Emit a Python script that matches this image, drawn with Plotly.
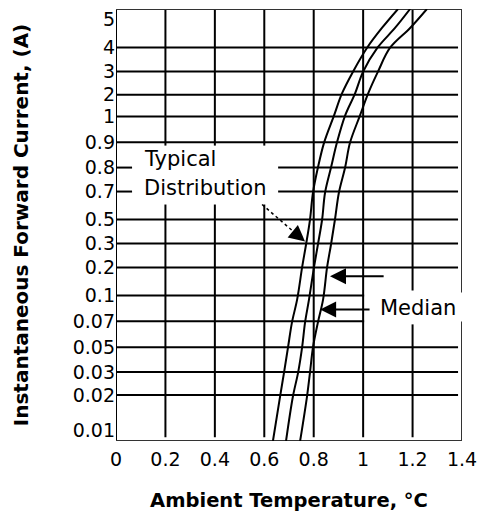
import plotly.graph_objects as go

# ---- data (x: printed temperature scale; y: position on the printed current scale, in grid rows) ----
current_labels = ["5", "4", "3", "2", "1", "0.9", "0.8", "0.7", "0.5", "0.3",
                  "0.2", "0.1", "0.07", "0.05", "0.03", "0.02", "0.01"]
current_rows = [16.9, 15.76, 14.8, 13.87, 13.0, 11.96, 10.95, 9.99, 8.87, 7.91,
                6.95, 5.83, 4.8, 3.75, 2.76, 1.84, 0.43]

temp_ticks = [0, 0.2, 0.4, 0.6, 0.8, 1.0, 1.2, 1.4]
temp_labels = ["0", "0.2", "0.4", "0.6", "0.8", "1", "1.2", "1.4"]

curve_rows = [17.30, 16.54, 15.75, 14.79, 13.91, 13.03, 11.95, 10.95, 9.95,
              8.87, 7.87, 6.95, 5.67, 4.75, 3.75, 2.75, 1.79, 0.0]
temp_low = [1.141, 1.076, 1.016, 0.959, 0.914, 0.882, 0.842, 0.817, 0.797,
            0.785, 0.769, 0.753, 0.733, 0.712, 0.696, 0.680, 0.664, 0.635]
temp_median = [1.190, 1.129, 1.058, 1.000, 0.967, 0.927, 0.894, 0.870, 0.846,
               0.834, 0.817, 0.801, 0.781, 0.765, 0.753, 0.737, 0.716, 0.688]
temp_high = [1.258, 1.190, 1.109, 1.060, 1.020, 0.987, 0.947, 0.927, 0.902,
             0.886, 0.870, 0.854, 0.838, 0.817, 0.797, 0.785, 0.773, 0.745]

X_MAX = 1.4
Y_MAX = 17.3

fig = go.Figure()
for name, xs in [("Low", temp_low), ("Median", temp_median), ("High", temp_high)]:
    fig.add_trace(go.Scatter(x=xs, y=curve_rows, mode="lines", name=name,
                             line=dict(color="black", width=2, shape="spline", smoothing=1.0),
                             showlegend=False, hoverinfo="skip"))

shapes = []
LC = "black"


def hseg(y, x0, x1, w=2, color=LC):
    shapes.append(dict(type="line", xref="x", yref="y", x0=x0, x1=x1, y0=y, y1=y,
                       line=dict(color=color, width=w), layer="below"))


def vseg(x, y0, y1, w=2, color=LC):
    shapes.append(dict(type="line", xref="x", yref="y", x0=x, x1=x, y0=y0, y1=y1,
                       line=dict(color=color, width=w), layer="below"))


H_END = 1.384
V_BOT = 0.15
# horizontal grid lines (skip "5" = top edge and "0.01" label)
for lab, r in zip(current_labels[1:-1], current_rows[1:-1]):
    if lab in ("0.8", "0.7"):
        hseg(r, 0, 0.065)
        hseg(r, 0.656, H_END)
    elif lab in ("0.1", "0.07"):
        hseg(r, 0, 1.004)
    else:
        hseg(r, 0, H_END)

# vertical grid lines
for t in temp_ticks[1:-1]:
    if t in (0.2, 0.4, 0.6):
        vseg(t, V_BOT, 9.47)
        vseg(t, 11.83, Y_MAX)
    elif t == 1.2:
        vseg(t, V_BOT, 4.67)
        vseg(t, 6.03, Y_MAX)
    else:
        vseg(t, V_BOT, Y_MAX)

# frame
vseg(0, 0, Y_MAX, w=2)
hseg(0, 0, X_MAX, w=2, color="#333")
hseg(Y_MAX, 0, X_MAX, w=2, color="#333")
vseg(X_MAX, 0, 4.79, w=2, color="#333")
vseg(X_MAX, 5.95, Y_MAX, w=2, color="#333")

# dotted leader of "Typical Distribution"
shapes.append(dict(type="line", xref="x", yref="y", x0=0.591, y0=9.47, x1=0.72, y1=8.37,
                   line=dict(color="black", width=1.5, dash="dot")))

txt_font = dict(family="DejaVu Sans", size=21, color="black")
annotations = [
    dict(x=0.105, y=11.3, xref="x", yref="y", text="Typical", showarrow=False,
         xanchor="left", yanchor="middle", font=txt_font),
    dict(x=0.105, y=10.15, xref="x", yref="y", text="Distribution", showarrow=False,
         xanchor="left", yanchor="middle", font=txt_font),
    dict(x=1.06, y=5.33, xref="x", yref="y", text="Median", showarrow=False,
         xanchor="left", yanchor="middle", font=txt_font),
    # arrows
    dict(x=0.866, y=6.6, ax=1.089, ay=6.6, xref="x", yref="y", axref="x", ayref="y",
         text="", showarrow=True, arrowhead=2, arrowsize=1.6, arrowwidth=2, arrowcolor="black"),
    dict(x=0.826, y=5.27, ax=1.032, ay=5.27, xref="x", yref="y", axref="x", ayref="y",
         text="", showarrow=True, arrowhead=2, arrowsize=1.6, arrowwidth=2, arrowcolor="black"),
    dict(x=0.765, y=7.99, ax=-12, ay=-10, xref="x", yref="y", axref="pixel", ayref="pixel",
         text="", showarrow=True, arrowhead=2, arrowsize=1.6, arrowwidth=2, arrowcolor="black"),
]

fig.update_layout(
    width=477, height=512,
    margin=dict(l=116, r=15, t=9, b=71, autoexpand=False),
    paper_bgcolor="white", plot_bgcolor="white",
    shapes=shapes, annotations=annotations,
    xaxis=dict(range=[0, X_MAX], tickvals=temp_ticks, ticktext=temp_labels,
               showgrid=False, zeroline=False, showline=False, automargin=False,
               ticks="outside", ticklen=1, tickcolor="rgba(0,0,0,0)",
               ticklabeloverflow="allow",
               tickfont=dict(family="DejaVu Sans", size=19, color="black"),
               title=dict(text="<b>Ambient Temperature, °C</b>", standoff=27,
                          font=dict(family="DejaVu Sans", size=19.5, color="black"))),
    yaxis=dict(range=[0, Y_MAX], tickvals=current_rows, ticktext=current_labels,
               showgrid=False, zeroline=False, showline=False, automargin=False,
               ticks="", ticklabeloverflow="allow",
               tickfont=dict(family="DejaVu Sans", size=19, color="black"),
               title=dict(text="<b>Instantaneous Forward Current, (A)</b>", standoff=38,
                          font=dict(family="DejaVu Sans", size=20, color="black"))),
)

fig.write_html("out.html", config={"displayModeBar": False},
               post_script="document.body.style.margin='0';")
